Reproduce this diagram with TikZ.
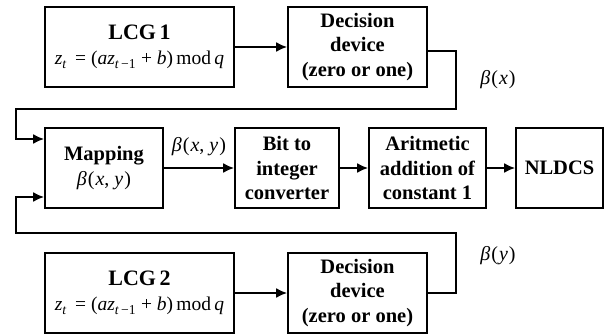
\documentclass[tikz,border=0pt]{standalone}
\usepackage{fontspec}
\setmainfont{Liberation Serif}
\usetikzlibrary{arrows.meta}

\newcommand{\lcgeq}{\textit{z}\textsubscript{\textit{t}}\, = (\textit{az}\textsubscript{\textit{t}\,\textminus1} + \textit{b})\,mod\,\textit{q}}
\newcommand{\betaof}[1]{\textit{β}\kern1pt(\kern1pt#1\kern1pt)}

\begin{document}
\begin{tikzpicture}[x=1pt,y=-1pt,
    block/.style={draw,line width=1.8pt,minimum height=80pt,inner sep=0pt,align=center,font=\fontsize{20.5}{24.5}\selectfont\bfseries},
    lbl/.style={font=\fontsize{20}{22}\selectfont},
    link/.style={line width=1.8pt,-{Latex[length=11pt,width=10pt]}},
    wire/.style={line width=1.8pt}]
        \useasboundingbox (0,0) rectangle (605,334);
        \node[block,minimum width=189pt] (lcga) at (139.5,47) {\fontsize{22}{24}\selectfont LCG\,1\\[1pt]{\mdseries\fontsize{19.5}{20}\selectfont\lcgeq}};
        \node[block,minimum width=139pt] (deca) at (357.5,47) {Decision\\device\\(zero or one)};
        \node[block,minimum width=118pt] (map) at (104,168) {Mapping\\{\mdseries\fontsize{20}{22}\selectfont\betaof{\textit{x}, \textit{y}}}};
        \node[block,minimum width=104pt] (bit) at (287,168) {Bit to\\integer\\converter};
        \node[block,minimum width=117pt] (add) at (427.5,168) {Aritmetic\\addition of\\constant 1};
        \node[block,minimum width=87pt] (out) at (559.5,168) {NLDCS};
        \node[block,minimum width=189pt] (lcgb) at (139.5,293) {\fontsize{22}{24}\selectfont LCG\,2\\[1pt]{\mdseries\fontsize{19.5}{20}\selectfont\lcgeq}};
        \node[block,minimum width=139pt] (decb) at (357.5,293) {Decision\\device\\(zero or one)};
        \coordinate (ua) at (456,109);
        \coordinate (ub) at (16,109);
        \coordinate (la) at (456,233);
        \coordinate (lb) at (16,233);
        \draw[link] (lcga) -- (deca);
        \draw[link] (lcgb) -- (decb);
        \draw[link] (deca.east |- 0,51) -| (ua) -- (ub) |- (map.west |- 0,139);
        \draw[link] (decb.east) -| (la) -- (lb) |- (map.west |- 0,197);
        \draw[link] (map) -- (bit);
        \draw[link] (bit) -- (add);
        \draw[link] (add) -- (out);
        \node[lbl] (bx) at (498,80) {\betaof{\textit{x}}};
        \node[lbl] (by) at (498,256) {\betaof{\textit{y}}};
        \node[lbl] (bxy) at (199,147) {\betaof{\textit{x}, \textit{y}}};
    \end{tikzpicture}
\end{document}
